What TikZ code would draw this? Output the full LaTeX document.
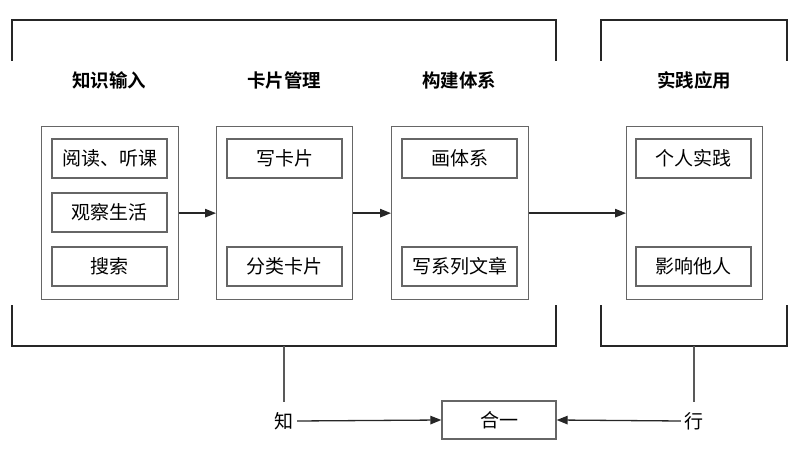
\documentclass[tikz,border=0pt]{standalone}
\usepackage{fontspec}
\newfontfamily\cjk{Noto Sans CJK SC}
\newfontfamily\cjkb{Noto Sans CJK SC Bold}
\usetikzlibrary{arrows.meta}
\begin{document}
\begin{tikzpicture}[x=1pt,y=-1pt,
  bracket/.style={line width=1.6pt,black!85},
  outerbox/.style={draw=gray!80!black,line width=1.3pt,anchor=north west,inner sep=0pt},
  innerbox/.style={draw=gray!80!black,line width=1.3pt,inner sep=0pt,font=\cjk\fontsize{19}{19}\selectfont},
  header/.style={font=\cjkb\fontsize{18.5}{18.5}\selectfont},
  label/.style={font=\cjk\fontsize{19}{19}\selectfont},
  arr/.style={-{Triangle[length=11pt,width=8.5pt]},line width=1.3pt,black!85},
  thin/.style={line width=1.2pt,gray!70!black}]
\useasboundingbox (0,0) rectangle (798,449);
% brackets
\draw[bracket] (12,61) -- (12,20) -- (556,20) -- (556,61);
\draw[bracket] (601,61) -- (601,20) -- (787,20) -- (787,61);
\draw[bracket] (12,305) -- (12,346) -- (556,346) -- (556,305);
\draw[bracket] (601,305) -- (601,346) -- (787,346) -- (787,305);
\coordinate (b1) at (284,346);
\coordinate (b2) at (694,346);
% headers
\node[header] (h1) at (109,80) {知识输入};
\node[header] (h2) at (284,80) {卡片管理};
\node[header] (h3) at (459,80) {构建体系};
\node[header] (h4) at (694,80) {实践应用};
% outer boxes
\node[outerbox,minimum width=137pt,minimum height=173pt] (o1) at (41,126) {};
\node[outerbox,minimum width=136pt,minimum height=173pt] (o2) at (216,126) {};
\node[outerbox,minimum width=137pt,minimum height=173pt] (o3) at (391,126) {};
\node[outerbox,minimum width=136pt,minimum height=173pt] (o4) at (626,126) {};
% inner boxes
\node[innerbox,minimum width=115pt,minimum height=39pt] (i11) at (109.5,158.5) {阅读、听课};
\node[innerbox,minimum width=115pt,minimum height=39pt] (i12) at (109.5,212.5) {观察生活};
\node[innerbox,minimum width=115pt,minimum height=39pt] (i13) at (109.5,266.5) {搜索};
\node[innerbox,minimum width=115pt,minimum height=39pt] (i21) at (284.5,158.5) {写卡片};
\node[innerbox,minimum width=115pt,minimum height=39pt] (i22) at (284.5,266.5) {分类卡片};
\node[innerbox,minimum width=115pt,minimum height=39pt] (i31) at (459.5,158.5) {画体系};
\node[innerbox,minimum width=115pt,minimum height=39pt] (i32) at (459.5,266.5) {写系列文章};
\node[innerbox,minimum width=115pt,minimum height=39pt] (i41) at (693.5,158.5) {个人实践};
\node[innerbox,minimum width=115pt,minimum height=39pt] (i42) at (693.5,266.5) {影响他人};
% arrows between boxes
\draw[arr] (o1.east) -- (o2.west);
\draw[arr] (o2.east) -- (o3.west);
\draw[arr] (o3.east) -- (o4.west);
% bottom
\node[label] (zhi) at (284,421) {知};
\node[label] (xing) at (694,421) {行};
\node[innerbox,minimum width=114pt,minimum height=38pt] (he) at (499,420) {合一};
\draw[thin] (b1) -- (284,402);
\draw[thin] (b2) -- (694,402);
\draw[arr] (zhi.east) -- (he.west);
\draw[arr] (xing.west) -- (he.east);
\end{tikzpicture}
\end{document}
